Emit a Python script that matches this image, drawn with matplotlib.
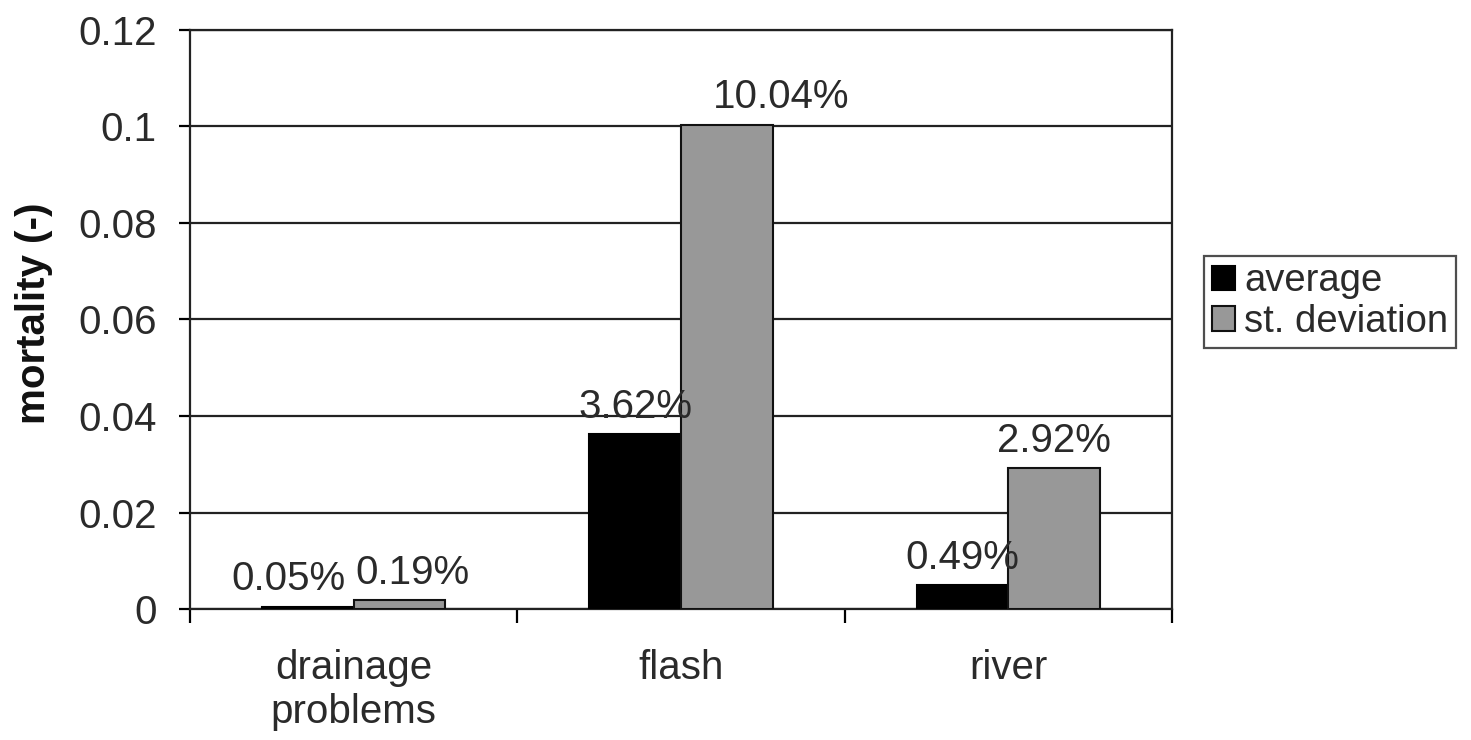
import matplotlib.pyplot as plt
import numpy as np

plt.rcParams['font.family'] = ['Liberation Sans', 'DejaVu Sans']

categories = ['drainage\nproblems', 'flash', 'river']
average = [0.0005, 0.0362, 0.0049]
st_deviation = [0.0019, 0.1004, 0.0292]
y_ticks = [0, 0.02, 0.04, 0.06, 0.08, 0.1, 0.12]
y_tick_labels = ['0', '0.02', '0.04', '0.06', '0.08', '0.1', '0.12']

# small horizontal nudges (points) for value labels that would collide
avg_nudge = [-14, 0, 0]
std_nudge = [9, 39, 0]

FS = 29


def main():
    fig = plt.figure(figsize=(14.71, 7.40), dpi=100)
    ax = fig.add_axes([0.1292, 0.177, 0.6675, 0.7825])

    x = np.arange(len(categories))
    w = 0.28
    b1 = ax.bar(x - w / 2, average, w, color='black', edgecolor='black',
                linewidth=1.5, label='average', zorder=3)
    b2 = ax.bar(x + w / 2, st_deviation, w, color='#989898', edgecolor='#111111',
                linewidth=1.5, label='st. deviation', zorder=3)

    for bars, vals, nudge in ((b1, average, avg_nudge), (b2, st_deviation, std_nudge)):
        for rect, v, dx in zip(bars, vals, nudge):
            ax.annotate(f'{v * 100:.2f}%',
                        xy=(rect.get_x() + rect.get_width() / 2, v),
                        xytext=(dx, 6), textcoords='offset points',
                        ha='center', va='bottom', fontsize=FS, color='#2a2a2a',
                        zorder=4)

    ax.set_xlim(-0.5, len(categories) - 0.5)
    ax.set_ylim(0, 0.12)
    ax.set_yticks(y_ticks)
    ax.set_yticklabels(y_tick_labels)
    ax.yaxis.grid(True, color='#222222', linewidth=1.6, zorder=0)

    # category boundaries carry the ticks, names sit in between
    ax.set_xticks(np.arange(len(categories) + 1) - 0.5)
    ax.set_xticklabels([])
    ax.set_xticks(x, minor=True)
    ax.set_xticklabels(categories, minor=True, fontsize=FS, color='#2a2a2a',
                       linespacing=1.2)
    ax.tick_params(axis='x', which='major', length=10, width=1.6, direction='out')
    ax.tick_params(axis='x', which='minor', length=0, pad=29)
    ax.tick_params(axis='y', length=8, width=1.6, pad=16, labelsize=FS,
                   labelcolor='#2a2a2a')

    for s in ax.spines.values():
        s.set_linewidth(1.6)
        s.set_color('#222222')

    ax.set_ylabel('mortality (-)', fontsize=FS, fontweight='bold', color='#111111')
    ax.yaxis.set_label_coords(-0.14, 0.51)

    leg = ax.legend(loc='upper left', bbox_to_anchor=(1.033, 0.61), fontsize=27.5,
                    frameon=True, fancybox=False, edgecolor='#222222',
                    handlelength=0.6, handleheight=0.6, handletextpad=0.25,
                    borderpad=0.2, labelspacing=0.12, borderaxespad=0)
    leg.get_frame().set_linewidth(1.6)
    for t in leg.get_texts():
        t.set_color('#2a2a2a')

    fig.savefig('out.png', dpi=100)
    plt.close(fig)


if __name__ == '__main__':
    main()
